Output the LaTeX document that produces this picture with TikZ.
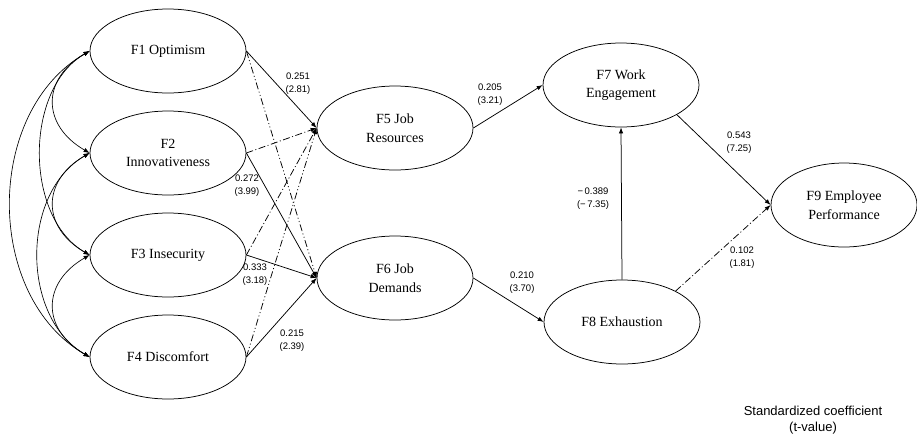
\documentclass[tikz,border=0pt]{standalone}
\usepackage{fontspec}
\setmainfont{Liberation Serif}
\newfontfamily\coeffont{Liberation Sans}
\usetikzlibrary{shapes.geometric,arrows.meta}

\tikzset{
  factor/.style={draw, ellipse, line width=0.75pt, minimum width=156pt, minimum height=84pt,
    inner sep=0pt, align=center, font=\fontsize{14}{18.5}\selectfont},
  coef/.style={align=center, inner sep=0pt, font=\coeffont\fontsize{9.5}{13}\selectfont},
  sig/.style={-{Latex[length=6pt,width=4.5pt]}, line width=0.75pt},
  nsigdot/.style={sig, dash pattern=on 7pt off 2.5pt on 1pt off 2.5pt},
  nsigdd/.style={sig, dash pattern=on 7pt off 2.5pt on 1pt off 2.5pt on 1pt off 2.5pt},
  cov/.style={{Latex[length=6pt,width=4.5pt]}-{Latex[length=6pt,width=4.5pt]}, line width=0.65pt}
}

\begin{document}
\begin{tikzpicture}[x=1pt,y=1pt]
    \useasboundingbox (0,0) rectangle (917,-437);

    % exogenous factors
    \node[factor] (f1) at (168,-51) {F1 Optimism};
    \node[factor] (f2) at (168,-153) {F2\\Innovativeness};
    \node[factor] (f3) at (168,-255) {F3 Insecurity};
    \node[factor] (f4) at (168,-357) {F4 Discomfort};

    % mediators and outcomes
    \node[factor] (f5) at (395,-128) {F5 Job\\Resources};
    \node[factor] (f6) at (395,-278) {F6 Job\\Demands};
    \node[factor] (f7) at (621,-85) {F7 Work\\Engagement};
    \node[factor] (f8) at (622,-322) {F8 Exhaustion};
    \node[factor, minimum width=146pt] (f9) at (844,-205) {F9 Employee\\Performance};

    % correlations
    \draw[cov] (f1.west) to[out=210,in=150,looseness=1.4] (f2.west);
    \draw[cov] (f2.west) to[out=210,in=150,looseness=1.4] (f3.west);
    \draw[cov] (f3.west) to[out=210,in=150,looseness=1.4] (f4.west);
    \draw[cov] (f1.west) to[out=210,in=150,looseness=0.95] (f3.west);
    \draw[cov] (f2.west) to[out=210,in=150,looseness=1.0] (f4.west);
    \draw[cov] (f1.west) to[out=210,in=150,looseness=1.02] (f4.west);

    % paths to job resources / demands
    \draw[sig] (f1.east) -- (f5.west);
    \draw[nsigdd] (f1.east) -- (f6.west);
    \draw[nsigdot] (f2.east) -- (f5.west);
    \draw[sig] (f2.east) -- (f6.west);
    \draw[nsigdot] (f3.east) -- (f5.west);
    \draw[sig] (f3.east) -- (f6.west);
    \draw[nsigdd] (f4.east) -- (f5.west);
    \draw[sig] (f4.east) -- (f6.west);

    % structural paths
    \draw[sig] (f5.east) -- (f7.west);
    \draw[sig] (f6.east) -- (f8.west);
    \draw[sig] (f8.north) -- (f7.south);
    \draw[sig] (f7.-28) -- (f9.west);
    \draw[nsigdot] (f8.30) -- (f9.west);

    % coefficients
    \node[coef] (c15) at (298,-83.5) {0.251\\(2.81)};
    \node[coef] (c26) at (247,-186) {0.272\\(3.99)};
    \node[coef] (c36) at (255,-275) {0.333\\(3.18)};
    \node[coef] (c46) at (292,-341) {0.215\\(2.39)};
    \node[coef] (c57) at (490,-94.5) {0.205\\(3.21)};
    \node[coef] (c68) at (522,-282.5) {0.210\\(3.70)};
    \node[coef] (c87) at (593,-198.5) {−\,0.389\\(−\,7.35)};
    \node[coef] (c79) at (739,-143) {0.543\\(7.25)};
    \node[coef] (c89) at (742,-258) {0.102\\(1.81)};

    \node[coef, font=\coeffont\fontsize{13}{16}\selectfont] (legend) at (813,-420)
        {Standardized coefficient\\(t-value)};
\end{tikzpicture}
\end{document}
